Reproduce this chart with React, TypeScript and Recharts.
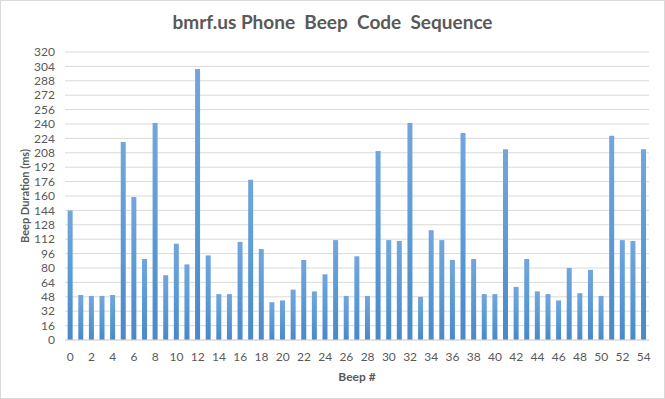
import { BarChart, Bar, XAxis, YAxis, CartesianGrid, Label } from 'recharts';

// beep durations in ms, index = beep #
const beepIndex = Array.from({ length: 55 }, (_, i) => i);
const durations = [
  144, 50, 49, 49, 50, 220, 159, 90, 241, 72,
  107, 84, 301, 94, 51, 51, 109, 178, 101, 42,
  44, 56, 89, 54, 73, 111, 49, 93, 49, 210,
  111, 110, 241, 48, 122, 111, 89, 230, 90, 51,
  51, 212, 59, 90, 54, 51, 44, 80, 52, 78,
  49, 227, 111, 110, 212,
];
const yTicks = [0, 16, 32, 48, 64, 80, 96, 112, 128, 144, 160, 176, 192, 208, 224, 240, 256, 272, 288, 304, 320];

const data = beepIndex.map((b, i) => ({ beep: b, ms: durations[i] }));

const font = 'Lato, "Open Sans", sans-serif';

export default function App() {
  return (
    <div
      style={{
        position: 'fixed',
        top: 0,
        left: 0,
        width: 665,
        height: 399,
        background: '#fff',
        fontFamily: font,
      }}
    >
      <div
        style={{
          position: 'absolute',
          inset: 0,
          border: '1px solid #d9d9d9',
          boxSizing: 'border-box',
          pointerEvents: 'none',
        }}
      />
      <div
        style={{
          position: 'absolute',
          top: 10,
          left: 0,
          width: 665,
          textAlign: 'center',
          fontSize: 19,
          fontWeight: 700,
          color: '#595959',
        }}
      >
        bmrf.us Phone&nbsp; Beep&nbsp; Code&nbsp; Sequence
      </div>
      <BarChart
        width={665}
        height={399}
        data={data}
        margin={{ top: 52, right: 16, bottom: 9, left: 0 }}
        barCategoryGap="25%"
      >
        <defs>
          <linearGradient id="barFill" x1="0" y1="0" x2="0" y2="1">
            <stop offset="0%" stopColor="#72a6dc" />
            <stop offset="50%" stopColor="#5b9bd5" />
            <stop offset="100%" stopColor="#4a88c8" />
          </linearGradient>
        </defs>
        <CartesianGrid vertical={false} stroke="#d9d9d9" />
        <XAxis
          dataKey="beep"
          height={50}
          interval={1}
          tickLine={false}
          axisLine={{ stroke: '#d9d9d9' }}
          tick={{ fill: '#595959', fontSize: 12, fontFamily: font }}
          tickMargin={6}
        >
          <Label
            value="Beep #"
            position="insideBottom"
            offset={9}
            style={{ fill: '#595959', fontSize: 12, fontWeight: 700, fontFamily: font }}
          />
        </XAxis>
        <YAxis
          width={65}
          domain={[0, 320]}
          ticks={yTicks}
          interval={0}
          tickLine={false}
          axisLine={false}
          tick={{ fill: '#595959', fontSize: 12, fontFamily: font }}
          tickMargin={4}
        >
          <Label
            value="Beep Duration (ms)"
            angle={-90}
            position="insideLeft"
            offset={25}
            style={{ textAnchor: 'middle', fill: '#595959', fontSize: 11, fontWeight: 700, fontFamily: font }}
          />
        </YAxis>
        <Bar dataKey="ms" fill="url(#barFill)" isAnimationActive={false} />
      </BarChart>
    </div>
  );
}
